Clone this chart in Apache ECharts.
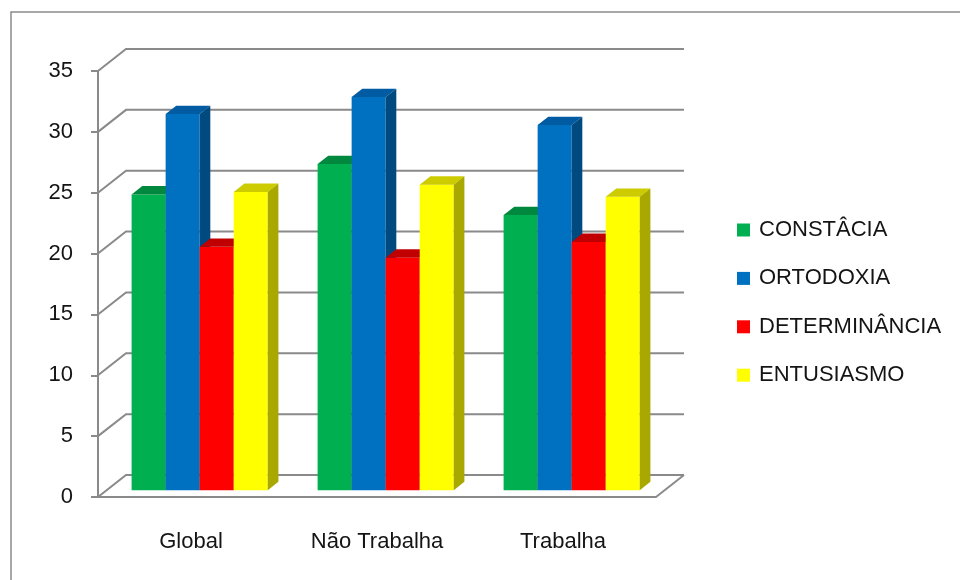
<!DOCTYPE html>
<html>
<head>
<meta charset="utf-8">
<title>Perfil por situação laboral</title>
<script src="https://cdn.jsdelivr.net/npm/echarts@6/dist/echarts.min.js"></script>
<style>
  html, body { margin: 0; padding: 0; background: #ffffff; }
  #chart { width: 960px; height: 580px; }
</style>
</head>
<body>
<div id="chart"></div>
<script>
// ---- data ----
const categories = ['Global', 'Não Trabalha', 'Trabalha'];
const seriesNames = ['CONSTÂCIA', 'ORTODOXIA', 'DETERMINÂNCIA', 'ENTUSIASMO'];
const constancia = [24.3, 26.8, 22.6];
const ortodoxia = [30.9, 32.3, 30.0];
const determinancia = [20.0, 19.1, 20.4];
const entusiasmo = [24.5, 25.1, 24.1];
const yTicks = [0, 5, 10, 15, 20, 25, 30, 35];

// ---- styling ----
const FONT = '"Liberation Sans", Arial, sans-serif';
const TEXT = '#141414';
const LINE = '#8a8a8a';
const faceColors = ['#00B050', '#0070C0', '#FF0000', '#FFFF00'];
const topColors = ['#00893E', '#005BA3', '#C00000', '#CCCC00'];
const sideColors = ['#00753A', '#004A80', '#A00000', '#A8A800'];

// oblique depth of the plot box (front plane -> back wall)
const DEPTH_DX = 28;
const DEPTH_DY = -22;
// bars sit in the middle of the depth
const BAR_FRONT = 0.31;
const BAR_DEPTH = 0.38;
const BAR_FRAC = 0.183; // bar width as share of a category band

const valuesBySeries = [constancia, ortodoxia, determinancia, entusiasmo];

// side wall + back wall gridlines, and the right edge of the floor
function wallItem(params, api) {
  const cs = params.coordSys;
  const v = api.value(1);
  const y = api.coord([0, v])[1];
  const left = cs.x, right = cs.x + cs.width;
  const children = [{
    type: 'polyline',
    shape: { points: [[left, y], [left + DEPTH_DX, y + DEPTH_DY], [right + DEPTH_DX, y + DEPTH_DY]] },
    style: { stroke: LINE, lineWidth: 2, fill: null }
  }];
  if (v === 0) {
    children.push({
      type: 'line',
      shape: { x1: right, y1: y, x2: right + DEPTH_DX, y2: y + DEPTH_DY },
      style: { stroke: LINE, lineWidth: 2 }
    });
  }
  return { type: 'group', children };
}

// one pseudo-3D column: front face, top face, right side face
function makeBarRenderer(idx) {
  return function (params, api) {
    const cat = api.value(0);
    const v = api.value(1);
    const band = api.size([1, 0])[0];
    const w = band * BAR_FRAC;
    const base = api.coord([cat, 0]);
    const top = api.coord([cat, v]);
    const fdx = DEPTH_DX * BAR_FRONT, fdy = DEPTH_DY * BAR_FRONT;
    const bdx = DEPTH_DX * BAR_DEPTH, bdy = DEPTH_DY * BAR_DEPTH;
    const x0 = base[0] - 2 * w + idx * w + fdx;
    const x1 = x0 + w;
    const yb = base[1] + fdy;
    const yt = top[1] + fdy;
    return {
      type: 'group',
      children: [
        {
          type: 'polygon',
          shape: { points: [[x0, yt], [x1, yt], [x1, yb], [x0, yb]] },
          style: { fill: faceColors[idx] }
        },
        {
          type: 'polygon',
          shape: { points: [[x0, yt], [x1, yt], [x1 + bdx, yt + bdy], [x0 + bdx, yt + bdy]] },
          style: { fill: topColors[idx] }
        },
        {
          type: 'polygon',
          shape: { points: [[x1, yt], [x1 + bdx, yt + bdy], [x1 + bdx, yb + bdy], [x1, yb]] },
          style: { fill: sideColors[idx] }
        }
      ]
    };
  };
}

const chart = echarts.init(document.getElementById('chart'), null, { renderer: 'canvas' });

const series = [{
  type: 'custom',
  name: 'wall',
  silent: true,
  clip: false,
  z: 1,
  renderItem: wallItem,
  data: yTicks.map(v => [0, v])
}];

seriesNames.forEach((name, i) => {
  series.push({
    type: 'custom',
    name: name,
    clip: false,
    z: 2,
    itemStyle: { color: faceColors[i] },
    renderItem: makeBarRenderer(i),
    data: valuesBySeries[i].map((v, c) => [c, v])
  });
});

chart.setOption({
  animation: false,
  backgroundColor: '#ffffff',
  graphic: [{
    type: 'rect',
    shape: { x: 11, y: 12, width: 1000, height: 1000 },
    style: { fill: null, stroke: '#8c8c8c', lineWidth: 1.5 },
    silent: true
  }],
  grid: { left: 98, top: 71, width: 558, height: 426 },
  legend: {
    data: seriesNames,
    orient: 'vertical',
    left: 737,
    top: 219,
    padding: 0,
    icon: 'rect',
    itemWidth: 13,
    itemHeight: 13,
    itemGap: 26.4,
    textStyle: { fontFamily: FONT, fontSize: 22, color: TEXT, padding: [0, 0, 0, 4] }
  },
  xAxis: {
    type: 'category',
    data: categories,
    axisLine: { lineStyle: { color: LINE, width: 2 } },
    axisTick: { length: 8, lineStyle: { color: LINE, width: 2 } },
    axisLabel: { margin: 34, fontFamily: FONT, fontSize: 22, color: TEXT },
    splitLine: { show: false }
  },
  yAxis: {
    type: 'value',
    min: 0,
    max: 35,
    interval: 5,
    axisLine: { show: true, lineStyle: { color: LINE, width: 2 } },
    axisTick: { show: true, length: 7, lineStyle: { color: LINE, width: 2 } },
    axisLabel: { margin: 25, fontFamily: FONT, fontSize: 22, color: TEXT, padding: [5, 0, 0, 0] },
    splitLine: { show: false }
  },
  series: series
});
</script>
</body>
</html>
